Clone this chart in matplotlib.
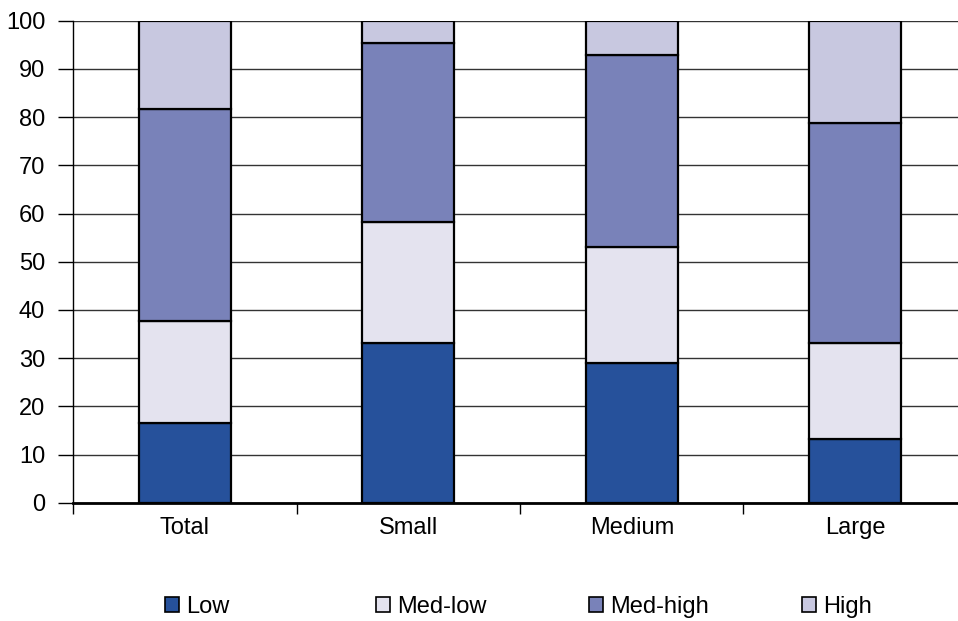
import matplotlib
matplotlib.use("Agg")
import matplotlib.pyplot as plt
import numpy as np
from matplotlib.patches import Patch

categories = ["Total", "Small", "Medium", "Large"]
series_names = ["Low", "Med-low", "Med-high", "High"]
low = [16.6, 33.2, 28.9, 13.2]
med_low = [21.2, 25.0, 24.1, 20.0]
med_high = [43.9, 37.2, 39.9, 45.6]
high = [18.3, 4.6, 7.1, 21.2]
yticks = list(range(0, 101, 10))

colors = ["#26519b", "#e4e3ef", "#7982b9", "#c8c8e0"]

plt.rcParams["font.family"] = ["Liberation Sans", "DejaVu Sans"]

W, H = 958, 621
fig = plt.figure(figsize=(W / 100, H / 100), dpi=100)
ax = fig.add_axes([73 / W, 118.3 / H, 894 / W, 482 / H])

x = np.arange(len(categories))
bottom = np.zeros(len(categories))
handles = []
for name, vals, col in zip(series_names, [low, med_low, med_high, high], colors):
    ax.bar(x, vals, width=0.41, bottom=bottom, color=col,
           edgecolor="black", linewidth=1.6, zorder=3)
    bottom += np.array(vals)
    handles.append(Patch(facecolor=col, edgecolor="black", linewidth=1.2, label=name))

ax.set_xlim(-0.5, len(categories) - 0.5)
ax.set_ylim(0, 100)
ax.set_yticks(yticks)
ax.yaxis.grid(True, color="#333333", linewidth=1.0, zorder=0)
ax.set_axisbelow(True)

for s in ["top", "right"]:
    ax.spines[s].set_visible(False)
ax.spines["left"].set_linewidth(1.0)
ax.spines["bottom"].set_linewidth(2.0)

ax.tick_params(axis="y", length=11, width=1.0, pad=9, labelsize=17, direction="out")
ax.set_xticks(x)
ax.set_xticklabels(categories)
ax.set_xticks(np.arange(-0.5, len(categories), 1.0), minor=True)
ax.tick_params(axis="x", which="major", length=0, pad=10, labelsize=17)
ax.tick_params(axis="x", which="minor", length=8, width=1.0, direction="out")

# one legend entry per series, evenly spaced along the bottom
entry_left = [165, 376, 589, 802]
for h, xl in zip(handles, entry_left):
    fig.legend(handles=[h], loc="center left", bbox_to_anchor=(xl / W, 14 / H),
               frameon=False, borderpad=0, borderaxespad=0,
               handlelength=0.6, handleheight=0.6, handletextpad=0.3,
               prop={"size": 17})

fig.savefig("out.png", dpi=100)
